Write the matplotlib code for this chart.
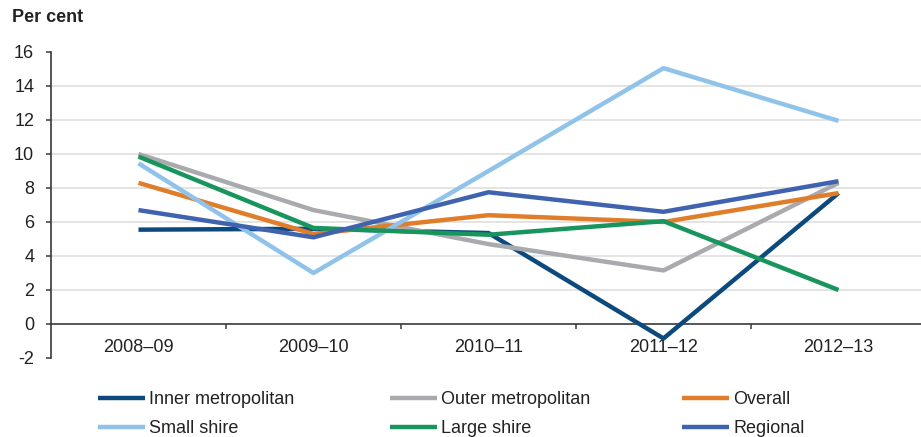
import matplotlib.pyplot as plt

plt.rcParams["font.family"] = ["Liberation Sans", "DejaVu Sans"]
plt.rcParams["axes.unicode_minus"] = False

years = ["2008–09", "2009–10", "2010–11", "2011–12", "2012–13"]

inner_metro = [5.55, 5.6, 5.35, -0.85, 7.7]
outer_metro = [10.0, 6.7, 4.7, 3.15, 8.3]
overall = [8.3, 5.3, 6.4, 6.0, 7.7]
small_shire = [9.45, 3.0, 9.0, 15.05, 11.95]
large_shire = [9.85, 5.65, 5.25, 6.05, 2.0]
regional = [6.7, 5.1, 7.75, 6.6, 8.4]

series = [
    ("Inner metropolitan", inner_metro, "#0c4a7e"),
    ("Outer metropolitan", outer_metro, "#a9aaad"),
    ("Overall", overall, "#e07d2a"),
    ("Small shire", small_shire, "#8fc3ea"),
    ("Large shire", large_shire, "#17955d"),
    ("Regional", regional, "#4063b0"),
]

fig = plt.figure(figsize=(9.21, 4.37), dpi=100)
ax = fig.add_axes([51 / 921, 79 / 437, 875 / 921, 306 / 437])

x = list(range(len(years)))
handles = []
for name, vals, color in series:
    (h,) = ax.plot(x, vals, color=color, lw=3.2, label=name, solid_capstyle="butt", zorder=3)
    handles.append(h)

# light horizontal gridlines
for yv in [2, 4, 6, 8, 10, 12, 14]:
    ax.axhline(yv, color="#dcdcdc", lw=1.1, zorder=1)

ax.set_xlim(-0.5, 4.5)
ax.set_ylim(-2, 16)
ax.set_yticks(range(-2, 17, 2))
ax.set_xticks(x)
ax.set_xticklabels(years)
ax.set_xticks([0.5, 1.5, 2.5, 3.5], minor=True)

spine_color = "#3a3a3a"
for side in ["top", "right"]:
    ax.spines[side].set_visible(False)
ax.spines["bottom"].set_position(("data", 0))
ax.spines["bottom"].set_color(spine_color)
ax.spines["bottom"].set_linewidth(1.2)
ax.spines["left"].set_color(spine_color)
ax.spines["left"].set_linewidth(1.2)

ax.tick_params(axis="y", length=3.6, width=1.1, color=spine_color, pad=8.5,
               labelsize=13, labelcolor="#222222")
ax.tick_params(axis="x", which="major", length=0, pad=11, labelsize=13,
               labelcolor="#222222")
ax.tick_params(axis="x", which="minor", length=3.6, width=1.1, color=spine_color)

fig.text(12 / 921, 1 - 18 / 437, "Per cent", fontsize=13, fontweight="bold",
         va="center", ha="left", color="#222222")

# legend laid out in three evenly spaced columns
col_x = [98, 390, 682]
for i, cx in enumerate(col_x):
    leg = fig.legend(handles=[handles[i], handles[i + 3]], loc="upper left",
                     bbox_to_anchor=(cx / 921, 1 - 391 / 437), frameon=False,
                     fontsize=13, handlelength=2.6, handletextpad=0.25,
                     labelspacing=0.68, borderpad=0, borderaxespad=0)
    for t in leg.get_texts():
        t.set_color("#222222")

fig.savefig("out.png", dpi=100)
